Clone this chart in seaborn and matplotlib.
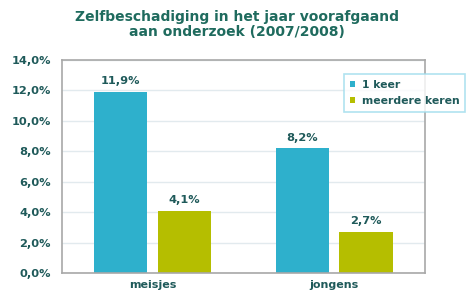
import numpy as np
import pandas as pd
from matplotlib import pyplot as plt
import seaborn as sns

# data
groepen = ["meisjes", "jongens"]
reeksen = ["1 keer", "meerdere keren"]
een_keer = [11.9, 8.2]
meerdere_keren = [4.1, 2.7]

df = pd.DataFrame({
    "groep": groepen * 2,
    "reeks": [reeksen[0]] * 2 + [reeksen[1]] * 2,
    "waarde": een_keer + meerdere_keren,
})

tekst = "#1f5a5a"
kleuren = ["#2eb0cc", "#b5be00"]

sns.set_style("white")
plt.rcParams["font.family"] = ["DejaVu Sans"]

fig = plt.figure(figsize=(4.73, 2.93), dpi=100)
ax = fig.add_axes([0.131, 0.068, 0.767, 0.727])

sns.barplot(data=df, x="groep", y="waarde", hue="reeks", order=groepen,
            hue_order=reeksen, palette=kleuren, width=0.705, gap=0.17,
            saturation=1, linewidth=0, ax=ax)

for cont in ax.containers:
    labels = [("%.1f%%" % v).replace(".", ",") for v in cont.datavalues]
    ax.bar_label(cont, labels=labels, padding=4, fontsize=8.2,
                 fontweight="bold", color=tekst)

ax.set_ylim(0, 14)
ax.set_yticks(np.arange(0, 15, 2))
ax.set_yticklabels([("%.1f%%" % v).replace(".", ",") for v in np.arange(0, 15, 2)])
ax.set_xticks([0.5], minor=True)
ax.tick_params(axis="x", which="major", length=0, pad=5)
ax.tick_params(axis="x", which="minor", length=4, color="#a0a0a0")
ax.tick_params(axis="y", length=4, color="#a0a0a0", pad=4)
for lab in ax.get_yticklabels():
    lab.set_fontweight("bold")
    lab.set_color(tekst)
    lab.set_fontsize(8.2)
for lab in ax.get_xticklabels():
    lab.set_fontweight("bold")
    lab.set_color(tekst)
    lab.set_fontsize(8)

ax.yaxis.grid(True, color="#e2eaee", linewidth=1)
ax.set_axisbelow(True)
for s in ax.spines.values():
    s.set_color("#a8a8a8")
    s.set_linewidth(1.2)
ax.set_xlabel("")
ax.set_ylabel("")

leg = ax.legend(loc="upper right", bbox_to_anchor=(0.994, 0.765),
                bbox_transform=fig.transFigure, frameon=True, fontsize=7.8,
                handlelength=0.5, handleheight=0.5, handletextpad=0.6,
                borderpad=0.5, labelspacing=0.6, fancybox=False)
leg.get_frame().set_edgecolor("#9ddcec")
leg.get_frame().set_linewidth(1.2)
for t in leg.get_texts():
    t.set_fontweight("bold")
    t.set_color(tekst)

fig.text(0.5, 0.965, "Zelfbeschadiging in het jaar voorafgaand\naan onderzoek (2007/2008)",
         ha="center", va="top", fontsize=10, fontweight="bold", color="#1f6b5e",
         linespacing=1.1)

plt.savefig("out.png", dpi=100)
